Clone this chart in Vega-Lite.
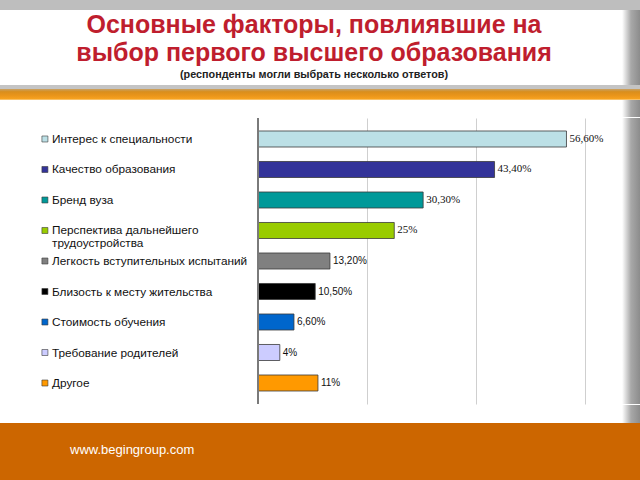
{
  "$schema": "https://vega.github.io/schema/vega-lite/v6.json",
  "padding": 0,
  "background": "#ffffff",
  "spacing": 0,
  "config": {
    "view": {"stroke": null},
    "font": "Liberation Sans",
    "concat": {"spacing": 0}
  },
  "datasets": {
    "factors": [
      {"factor": "Интерес к специальности", "value": 56.6, "label": "56,60%"},
      {"factor": "Качество образования", "value": 43.4, "label": "43,40%"},
      {"factor": "Бренд вуза", "value": 30.3, "label": "30,30%"},
      {"factor": "Перспектива дальнейшего\nтрудоустройства", "value": 25, "label": "25%"},
      {"factor": "Легкость вступительных испытаний", "value": 13.2, "label": "13,20%"},
      {"factor": "Близость к месту жительства", "value": 10.5, "label": "10,50%"},
      {"factor": "Стоимость обучения", "value": 6.6, "label": "6,60%"},
      {"factor": "Требование родителей", "value": 4, "label": "4%"},
      {"factor": "Другое", "value": 11, "label": "11%"}
    ]
  },
  "vconcat": [
    {
      "width": 640, "height": 10,
      "view": {"fill": "#BEBEBE"},
      "data": {"values": []},
      "mark": "point"
    },
    {
      "width": 640, "height": 75,
      "view": {"fill": {"gradient": "linear", "x1": 0, "y1": 0, "x2": 1, "y2": 0, "stops": [{"offset": 0, "color": "#ffffff"}, {"offset": 0.972, "color": "#ffffff"}, {"offset": 0.986, "color": "#a8a8a8"}, {"offset": 1, "color": "#8c8c8c"}]}},
      "data": {"values": [{"t": "Основные факторы, повлиявшие на\nвыбор первого высшего образования", "s": "(респонденты могли выбрать несколько ответов)"}]},
      "layer": [
        {
          "mark": {"type": "text", "lineBreak": "\n", "fontSize": 25, "fontWeight": "bold", "color": "#BF1E2E", "baseline": "alphabetic", "lineHeight": 28, "dy": -15, "dx": -6},
          "encoding": {"text": {"field": "t"}}
        },
        {
          "mark": {"type": "text", "fontSize": 10.8, "fontWeight": "bold", "color": "#222222", "baseline": "alphabetic", "dy": 30, "dx": -6},
          "encoding": {"text": {"field": "s"}}
        }
      ]
    },
    {
      "width": 640, "height": 4,
      "view": {"fill": "#C4C4C4"},
      "data": {"values": []},
      "mark": "point"
    },
    {
      "width": 640, "height": 11,
      "view": {"fill": {"gradient": "linear", "x1": 0, "y1": 0, "x2": 0, "y2": 1, "stops": [{"offset": 0, "color": "#C9A266"}, {"offset": 0.25, "color": "#D98E1C"}, {"offset": 0.6, "color": "#EA951A"}, {"offset": 0.9, "color": "#F7A21F"}, {"offset": 1, "color": "#FBD9A0"}]}},
      "data": {"values": []},
      "mark": "point"
    },
    {
      "width": 640, "height": 17,
      "view": {"fill": {"gradient": "linear", "x1": 0, "y1": 0, "x2": 1, "y2": 0, "stops": [{"offset": 0, "color": "#ffffff"}, {"offset": 0.972, "color": "#ffffff"}, {"offset": 0.986, "color": "#a8a8a8"}, {"offset": 1, "color": "#8c8c8c"}]}},
      "data": {"values": []},
      "mark": "point"
    },
    {
      "width": 640, "height": 286,
      "view": {"fill": {"gradient": "linear", "x1": 0, "y1": 0, "x2": 1, "y2": 0, "stops": [{"offset": 0, "color": "#ffffff"}, {"offset": 0.972, "color": "#ffffff"}, {"offset": 0.986, "color": "#a8a8a8"}, {"offset": 1, "color": "#8c8c8c"}]}},
      "data": {"name": "factors"},
      "encoding": {
        "y": {"field": "factor", "type": "nominal", "sort": null, "axis": null, "scale": {"paddingInner": 0.475, "paddingOuter": 0.426}}
      },
      "layer": [
        {
          "mark": {"type": "bar", "stroke": "#3a3a3a", "strokeWidth": 0.8},
          "encoding": {
            "x": {"field": "value", "type": "quantitative", "scale": {"domain": [-47.34, 70.09], "nice": false, "zero": false},
                  "axis": {"values": [20, 40, 60], "grid": true, "gridColor": "#CFCFCF", "gridWidth": 1, "labels": false, "ticks": false, "domain": false, "title": null}},
            "color": {"field": "factor", "type": "nominal", "legend": null,
                      "scale": {"domain": ["Интерес к специальности", "Качество образования", "Бренд вуза", "Перспектива дальнейшего\nтрудоустройства", "Легкость вступительных испытаний", "Близость к месту жительства", "Стоимость обучения", "Требование родителей", "Другое"],
                                "range": ["#BCE0E6", "#333399", "#009999", "#99CC00", "#808080", "#000000", "#0066CC", "#CCCCFF", "#FF9900"]}}
          }
        },
        {
          "mark": {"type": "rule", "color": "#7a7a7a", "strokeWidth": 1},
          "encoding": {"x": {"datum": 0, "type": "quantitative"}, "y": null}
        },
        {
          "mark": {"type": "point", "shape": "square", "size": 36, "filled": true, "opacity": 1, "stroke": "#3a3a3a", "strokeWidth": 0.6},
          "encoding": {
            "x": {"datum": -39.1, "type": "quantitative"},
            "color": {"field": "factor", "type": "nominal", "legend": null}
          }
        },
        {
          "mark": {"type": "text", "align": "left", "baseline": "alphabetic", "dy": 4, "fontSize": 11.8, "lineBreak": "\n", "lineHeight": 12.8, "color": "#111111"},
          "encoding": {
            "x": {"datum": -37.8, "type": "quantitative"},
            "text": {"field": "factor"}
          }
        },
        {
          "transform": [{"filter": "datum.value >= 25"}],
          "mark": {"type": "text", "align": "left", "baseline": "middle", "dx": 3, "fontSize": 11, "font": "Liberation Serif", "color": "#111111"},
          "encoding": {
            "x": {"field": "value", "type": "quantitative"},
            "text": {"field": "label"}
          }
        },
        {
          "transform": [{"filter": "datum.value < 25"}],
          "mark": {"type": "text", "align": "left", "baseline": "middle", "dx": 3, "fontSize": 10, "font": "Liberation Sans", "color": "#111111"},
          "encoding": {
            "x": {"field": "value", "type": "quantitative"},
            "text": {"field": "label"}
          }
        }
      ]
    },
    {
      "width": 640, "height": 18,
      "view": {"fill": {"gradient": "linear", "x1": 0, "y1": 0, "x2": 1, "y2": 0, "stops": [{"offset": 0, "color": "#ffffff"}, {"offset": 0.972, "color": "#ffffff"}, {"offset": 0.986, "color": "#a8a8a8"}, {"offset": 1, "color": "#8c8c8c"}]}},
      "data": {"values": []},
      "mark": "point"
    },
    {
      "width": 640, "height": 59,
      "view": {"fill": "#CC6600"},
      "data": {"values": [{"u": "www.begingroup.com"}]},
      "mark": {"type": "text", "align": "left", "baseline": "middle", "fontSize": 13, "color": "#ffffff", "dx": -250, "dy": -3},
      "encoding": {"text": {"field": "u"}}
    }
  ]
}
